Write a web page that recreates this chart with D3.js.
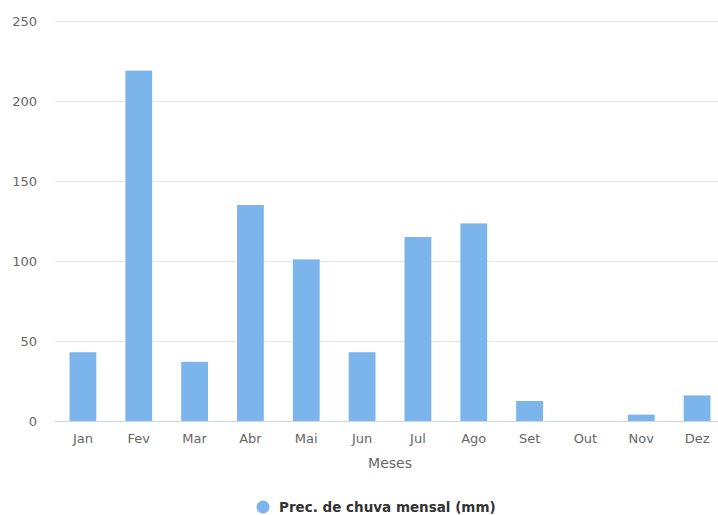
<!DOCTYPE html>
<html>
<head>
<meta charset="utf-8">
<script src="https://cdn.jsdelivr.net/npm/d3@7"></script>
<style>
  html, body { margin: 0; padding: 0; background: #fff; }
  svg { display: block; font-family: "DejaVu Sans", sans-serif; }
</style>
</head>
<body>
<svg id="chart" width="718" height="515"></svg>
<script>
// Monthly rainfall (mm)
const months = ["Jan", "Fev", "Mar", "Abr", "Mai", "Jun", "Jul", "Ago", "Set", "Out", "Nov", "Dez"];
const rainfall = [43, 219, 37, 135, 101, 43, 115, 123.5, 12.5, 0, 4, 16];
const yTicks = [0, 50, 100, 150, 200, 250];
const seriesName = "Prec. de chuva mensal (mm)";
const xTitle = "Meses";

const svg = d3.select("#chart");
const plot = { left: 55, right: 725, top: 21, bottom: 421 };

const x = d3.scaleBand()
  .domain(months)
  .range([plot.left, plot.right])
  .paddingInner(0.52)
  .paddingOuter(0.26);

const y = d3.scaleLinear()
  .domain([0, 250])
  .range([plot.bottom, plot.top]);

// Horizontal grid lines
svg.append("g")
  .selectAll("line")
  .data(yTicks)
  .join("line")
  .attr("x1", plot.left)
  .attr("x2", 718)
  .attr("y1", d => Math.round(y(d)) + 0.5)
  .attr("y2", d => Math.round(y(d)) + 0.5)
  .attr("stroke", "#e6e6e6")
  .attr("stroke-width", 1);

// Y axis labels
const yAxis = d3.axisLeft(y).tickValues(yTicks).tickSize(0).tickPadding(0);
svg.append("g")
  .attr("transform", `translate(37,0)`)
  .call(yAxis)
  .call(g => g.select(".domain").remove())
  .call(g => g.selectAll("text")
    .attr("fill", "#666")
    .attr("font-size", "13px")
    .attr("font-family", "DejaVu Sans, sans-serif"));

// Bars
svg.append("g")
  .selectAll("rect")
  .data(months.map((m, i) => ({ m, v: rainfall[i] })))
  .join("rect")
  .attr("x", d => x(d.m))
  .attr("width", x.bandwidth())
  .attr("y", d => y(d.v))
  .attr("height", d => y(0) - y(d.v))
  .attr("fill", "#7cb5ec");

// X axis line and labels
const xAxis = d3.axisBottom(x).tickSize(0).tickPadding(12);
svg.append("g")
  .attr("transform", `translate(0,${Math.round(y(0)) + 0.5})`)
  .call(xAxis)
  .call(g => g.select(".domain")
    .attr("stroke", "#ccd6eb")
    .attr("d", `M${plot.left},0H718`))
  .call(g => g.selectAll("text")
    .attr("fill", "#666")
    .attr("font-size", "13px")
    .attr("font-family", "DejaVu Sans, sans-serif"));

// X axis title
svg.append("text")
  .attr("x", (plot.left + plot.right) / 2)
  .attr("y", 468)
  .attr("text-anchor", "middle")
  .attr("fill", "#666")
  .attr("font-size", "14px")
  .text(xTitle);

// Legend
const legend = svg.append("g");
legend.append("circle")
  .attr("cx", 263)
  .attr("cy", 507)
  .attr("r", 6.5)
  .attr("fill", "#7cb5ec");
legend.append("text")
  .attr("x", 279)
  .attr("y", 512)
  .attr("fill", "#333")
  .attr("font-size", "13.5px")
  .attr("font-weight", "bold")
  .text(seriesName);
</script>
</body>
</html>
